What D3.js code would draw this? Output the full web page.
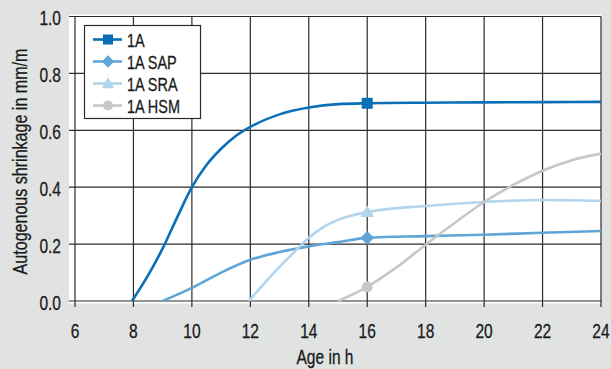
<!DOCTYPE html>
<html><head><meta charset="utf-8">
<script src="https://cdn.jsdelivr.net/npm/d3@7"></script>
<style>
html,body{margin:0;padding:0;background:#e1e3e3;}
svg{display:block;}
text{font-family:"Liberation Sans",Arial,sans-serif;fill:#1a1a1a;stroke:#1a1a1a;stroke-width:0.3px;}
</style></head>
<body><svg id="c" width="611" height="369"></svg>
<script>
const seriesNames = ["1A", "1A SAP", "1A SRA", "1A HSM"];
const seriesColors = ["#0a6fb7", "#5fa5d6", "#b2d4ec", "#c6c7c8"];
const markerTypes = ["square", "diamond", "triangle", "circle"];
const xTicks = [6, 8, 10, 12, 14, 16, 18, 20, 22, 24];
const yTicks = [0.0, 0.2, 0.4, 0.6, 0.8, 1.0];
const markerAge = 16;

const s1A_x = [7.95, 8.5, 9, 9.5, 10, 10.5, 11, 11.5, 12, 13, 14, 15, 16, 18, 20, 22, 24];
const s1A_y = [0, 0.09, 0.185, 0.295, 0.40, 0.478, 0.535, 0.58, 0.612, 0.656, 0.68, 0.692, 0.695, 0.697, 0.698, 0.699, 0.70];
const sSAP_x = [9, 10, 11, 12, 13, 14, 15, 16, 18, 20, 22, 24];
const sSAP_y = [0, 0.046, 0.10, 0.145, 0.172, 0.192, 0.207, 0.222, 0.228, 0.233, 0.24, 0.246];
const sSRA_x = [11.95, 12.5, 13, 13.5, 14, 14.5, 15, 16, 18, 20, 22, 24];
const sSRA_y = [0, 0.065, 0.12, 0.172, 0.222, 0.26, 0.285, 0.313, 0.334, 0.348, 0.355, 0.352];
const sHSM_x = [15, 16, 17, 18, 19, 20, 21, 22, 23, 24];
const sHSM_y = [0, 0.05, 0.118, 0.198, 0.275, 0.348, 0.408, 0.458, 0.495, 0.518];

const seriesX = [s1A_x, sSAP_x, sSRA_x, sHSM_x];
const seriesY = [s1A_y, sSAP_y, sSRA_y, sHSM_y];

const svg = d3.select("#c");
const x = d3.scaleLinear().domain([6, 24]).range([75, 601]);
const y = d3.scaleLinear().domain([0, 1]).range([301, 16.5]);

// condensed text helper
function ctext(sel, tx, ty, str, size, anchor, sx, rot) {
  return sel.append("text")
    .attr("transform", `translate(${tx},${ty})${rot ? " rotate(" + rot + ")" : ""} scale(${sx},1)`)
    .attr("text-anchor", anchor).attr("font-size", size).text(str);
}

// plot background (white)
svg.append("rect").attr("x", 69).attr("y", 14.5).attr("width", 601 - 69).attr("height", 303.5 - 14.5).attr("fill", "#fff");

// grid
const g = svg.append("g");
g.selectAll(".gx").data(xTicks).join("line")
  .attr("x1", d => x(d)).attr("x2", d => x(d))
  .attr("y1", y(1)).attr("y2", y(0) + 6)
  .attr("stroke", "#2b2b2b").attr("stroke-width", 1.2);
g.selectAll(".gy").data(yTicks).join("line")
  .attr("y1", d => y(d)).attr("y2", d => y(d))
  .attr("x1", x(6) - 6).attr("x2", x(24))
  .attr("stroke", "#2b2b2b").attr("stroke-width", 1.2);

// tick labels
xTicks.forEach(d => ctext(svg, x(d), 338, String(d), 21, "middle", 0.74));
yTicks.forEach(d => ctext(svg, 61, y(d) + 8.5, d3.format(".1f")(d), 21, "end", 0.74));

ctext(svg, 325, 364, "Age in h", 21, "middle", 0.74);
ctext(svg, 26.5, 161.5, "Autogenous shrinkage in mm/m", 21, "middle", 0.765, -90);

// lines
const line = d3.line().x(d => x(d[0])).y(d => y(d[1])).curve(d3.curveMonotoneX);
const plot = svg.append("g");
seriesNames.forEach((n, i) => {
  const pts = seriesX[i].map((v, j) => [v, seriesY[i][j]]);
  plot.append("path").datum(pts).attr("d", line)
    .attr("fill", "none").attr("stroke", seriesColors[i]).attr("stroke-width", 2.6)
    .attr("stroke-linejoin", "round");
});

function marker(sel, type, cx, cy, color, size) {
  if (type === "square") {
    sel.append("rect").attr("x", cx - size / 2).attr("y", cy - size / 2)
      .attr("width", size).attr("height", size).attr("fill", color);
  } else if (type === "diamond") {
    const r = size * 0.62;
    sel.append("path").attr("d", `M${cx},${cy - r}L${cx + r},${cy}L${cx},${cy + r}L${cx - r},${cy}Z`).attr("fill", color);
  } else if (type === "triangle") {
    const r = size * 0.62;
    sel.append("path").attr("d", `M${cx},${cy - r}L${cx + r},${cy + r * 0.75}L${cx - r},${cy + r * 0.75}Z`).attr("fill", color);
  } else {
    sel.append("circle").attr("cx", cx).attr("cy", cy).attr("r", size / 2).attr("fill", color);
  }
}
seriesNames.forEach((n, i) => {
  const j = seriesX[i].indexOf(markerAge);
  marker(plot, markerTypes[i], x(markerAge), y(seriesY[i][j]), seriesColors[i], 11);
});

// legend
const lg = svg.append("g");
lg.append("rect").attr("x", 84.5).attr("y", 25.5).attr("width", 116).attr("height", 93)
  .attr("fill", "#fff").attr("stroke", "#2b2b2b").attr("stroke-width", 1.2);
seriesNames.forEach((n, i) => {
  const ry = 39.5 + i * 22;
  lg.append("line").attr("x1", 93).attr("x2", 122).attr("y1", ry).attr("y2", ry)
    .attr("stroke", seriesColors[i]).attr("stroke-width", 2.6);
  marker(lg, markerTypes[i], 108, ry, seriesColors[i], 10);
  ctext(lg, 127, ry + 7, n, 18.5, "start", 0.78);
});
</script></body></html>
